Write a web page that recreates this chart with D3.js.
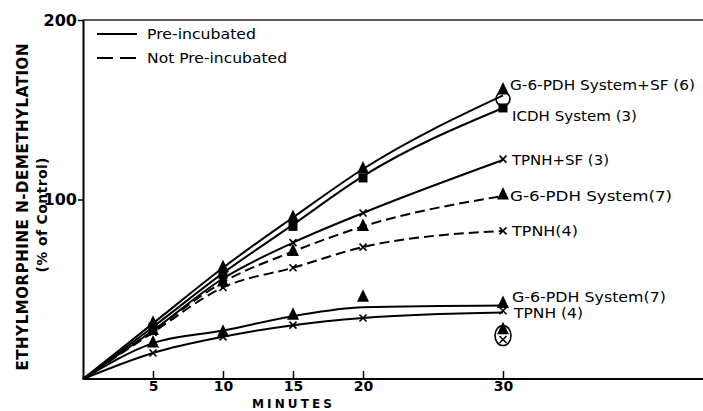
<!DOCTYPE html>
<html><head><meta charset="utf-8">
<script src="https://cdn.jsdelivr.net/npm/d3@7"></script>
<style>body{margin:0;background:#fff}svg{display:block}</style>
</head><body>
<svg id="c" width="703" height="411"></svg>
<script>
// ---- data ----
const times = [0, 5, 10, 15, 20, 30];
const xTicks = [5, 10, 15, 20, 30];
const yTicks = [100, 200];
const seriesNames = ["G-6-PDH System+SF (6)", "ICDH System (3)", "TPNH+SF (3)", "G-6-PDH System(7)", "TPNH(4)", "G-6-PDH System(7)", "TPNH (4)"];
const seriesPre = [true, true, true, false, false, true, true];
const seriesMarker = ["tri", "sq", "x", "tri", "x", "tri", "x"];
const g6pdhSfPre = [0, 31, 62, 90, 117, 158];
const icdhPre = [0, 29, 59, 86, 113, 151];
const tpnhSfPre = [0, 27, 56, 76, 92.5, 122];
const g6pdhNot = [0, 27, 54, 71, 85, 102];
const tpnhNot = [0, 26, 51, 62, 73.5, 82.5];
const g6pdhPre = [0, 20, 27, 35, 40, 41];
const tpnhPre = [0, 14.5, 23.5, 30, 34, 37];
// marker values (may differ slightly from the fitted line)
const g6pdhSfPreMarks = [null, 31, 62, 90, 117, 161];
const icdhPreMarks = [null, 29, 58, 85, 112, 151];
const tpnhSfPreMarks = [null, 27, 56, 76, 92.5, 122.5];
const g6pdhNotMarks = [null, 27, 54, 71, 85, 102.5];
const tpnhNotMarks = [null, 26, 51, 62, 73.5, 82.5];
const g6pdhPreMarks = [null, 20, 26, 35.5, 45.5, 42];
const tpnhPreMarks = [null, 14.5, 23.5, 30, 34, 38];
// separately circled points at 30 min
const circledTime = 30;
const circledUpper = 156;
const circledLowerTri = 27.5;
const circledLowerX = 22;
const legendLabels = ["Pre-incubated", "Not Pre-incubated"];

const lineData = [g6pdhSfPre, icdhPre, tpnhSfPre, g6pdhNot, tpnhNot, g6pdhPre, tpnhPre];
const markData = [g6pdhSfPreMarks, icdhPreMarks, tpnhSfPreMarks, g6pdhNotMarks, tpnhNotMarks, g6pdhPreMarks, tpnhPreMarks];

// ---- layout ----
const svg = d3.select("#c");
const W = 703;
const x = d3.scaleLinear().domain([0, 30]).range([83, 503]);
const y = d3.scaleLinear().domain([0, 200]).range([379, 20]);
const ff = "'DejaVu Sans', sans-serif";

// frame: top line, bottom axis line
svg.append("line").attr("x1", x(0)).attr("x2", W).attr("y1", y(200)).attr("y2", y(200))
  .attr("stroke", "#222").attr("stroke-width", 1.3);
svg.append("line").attr("x1", x(0)).attr("x2", W).attr("y1", y(0)).attr("y2", y(0))
  .attr("stroke", "#000").attr("stroke-width", 2);

const xAxis = svg.append("g").attr("transform", `translate(0,${y(0)})`)
  .call(d3.axisBottom(x).tickValues(xTicks).tickSizeInner(-8).tickSizeOuter(0).tickPadding(2));
xAxis.select(".domain").remove();
xAxis.selectAll("line").attr("stroke", "#000").attr("stroke-width", 1.5);
xAxis.selectAll("text").attr("font-family", ff).attr("font-weight", "bold").attr("font-size", 14).attr("fill", "#000");

const yAxis = svg.append("g").attr("transform", `translate(${x(0)},0)`)
  .call(d3.axisLeft(y).tickValues(yTicks).tickSizeInner(5).tickSizeOuter(0).tickPadding(1));
yAxis.select(".domain").attr("stroke", "#000").attr("stroke-width", 2);
yAxis.selectAll("line").attr("stroke", "#000").attr("stroke-width", 1.5);
yAxis.selectAll("text").attr("font-family", ff).attr("font-weight", "bold").attr("font-size", 16).attr("fill", "#000");

// axis titles
svg.append("text").attr("transform", "translate(28,207) rotate(-90)").attr("text-anchor", "middle")
  .attr("font-family", ff).attr("font-weight", "bold").attr("font-size", 15)
  .attr("textLength", 327).attr("lengthAdjust", "spacing").text("ETHYLMORPHINE N-DEMETHYLATION");
svg.append("text").attr("transform", "translate(47,215) rotate(-90)").attr("text-anchor", "middle")
  .attr("font-family", ff).attr("font-weight", "bold").attr("font-size", 14)
  .attr("textLength", 115).attr("lengthAdjust", "spacing").text("(% of Control)");
svg.append("text").attr("x", 292).attr("y", 407.5).attr("text-anchor", "middle")
  .attr("font-family", ff).attr("font-weight", "bold").attr("font-size", 12)
  .attr("textLength", 80).attr("lengthAdjust", "spacing").text("MINUTES");

// legend
svg.append("line").attr("x1", 97).attr("x2", 137).attr("y1", 34).attr("y2", 34).attr("stroke", "#000").attr("stroke-width", 2);
svg.append("line").attr("x1", 97).attr("x2", 137).attr("y1", 58).attr("y2", 58).attr("stroke", "#000").attr("stroke-width", 2).attr("stroke-dasharray", "16,7");
svg.append("text").attr("x", 147).attr("y", 39).attr("font-family", ff).attr("font-size", 14).attr("textLength", 109).attr("lengthAdjust", "spacingAndGlyphs").text(legendLabels[0]);
svg.append("text").attr("x", 147).attr("y", 63).attr("font-family", ff).attr("font-size", 14).attr("textLength", 140).attr("lengthAdjust", "spacingAndGlyphs").text(legendLabels[1]);

// lines
const line = d3.line().x((d, i) => x(times[i])).y(d => y(d)).curve(d3.curveMonotoneX);
lineData.forEach((vals, s) => {
  svg.append("path").attr("d", line(vals)).attr("fill", "none").attr("stroke", "#000")
    .attr("stroke-width", 2).attr("stroke-dasharray", seriesPre[s] ? null : "10,5");
});

// markers
function drawMarker(type, cx, cy) {
  if (type === "tri") {
    svg.append("path").attr("d", `M${cx},${cy - 8}L${cx + 6},${cy + 4.5}L${cx - 6},${cy + 4.5}Z`).attr("fill", "#000");
  } else if (type === "sq") {
    svg.append("rect").attr("x", cx - 4.5).attr("y", cy - 4.5).attr("width", 9).attr("height", 9).attr("fill", "#000");
  } else {
    svg.append("path").attr("d", `M${cx - 3.5},${cy - 3.5}L${cx + 3.5},${cy + 3.5}M${cx + 3.5},${cy - 3.5}L${cx - 3.5},${cy + 3.5}`)
      .attr("stroke", "#000").attr("stroke-width", 1.6).attr("fill", "none");
  }
}
markData.forEach((vals, s) => {
  vals.forEach((v, i) => { if (v !== null) drawMarker(seriesMarker[s], x(times[i]), y(v)); });
});

// circled points
svg.append("circle").attr("cx", x(circledTime)).attr("cy", y(circledUpper)).attr("r", 7)
  .attr("fill", "none").attr("stroke", "#000").attr("stroke-width", 1.6);
drawMarker("tri", x(circledTime), y(circledLowerTri));
drawMarker("x", x(circledTime), y(circledLowerX));
svg.append("ellipse").attr("cx", x(circledTime)).attr("cy", (y(circledLowerTri) + y(circledLowerX)) / 2 + 1)
  .attr("rx", 8).attr("ry", 10).attr("fill", "none").attr("stroke", "#000").attr("stroke-width", 1.6);

// series labels
const labelPos = [[510, 90, 185], [512, 121, 125], [512, 165, 97], [510, 201, 162], [512, 236, 66], [512, 302, 154], [514, 318, 69]];
seriesNames.forEach((name, s) => {
  const p = labelPos[s];
  svg.append("text").attr("x", p[0]).attr("y", p[1]).attr("font-family", ff).attr("font-size", 14)
    .attr("textLength", p[2]).attr("lengthAdjust", "spacingAndGlyphs").text(name);
});
</script>
</body></html>
